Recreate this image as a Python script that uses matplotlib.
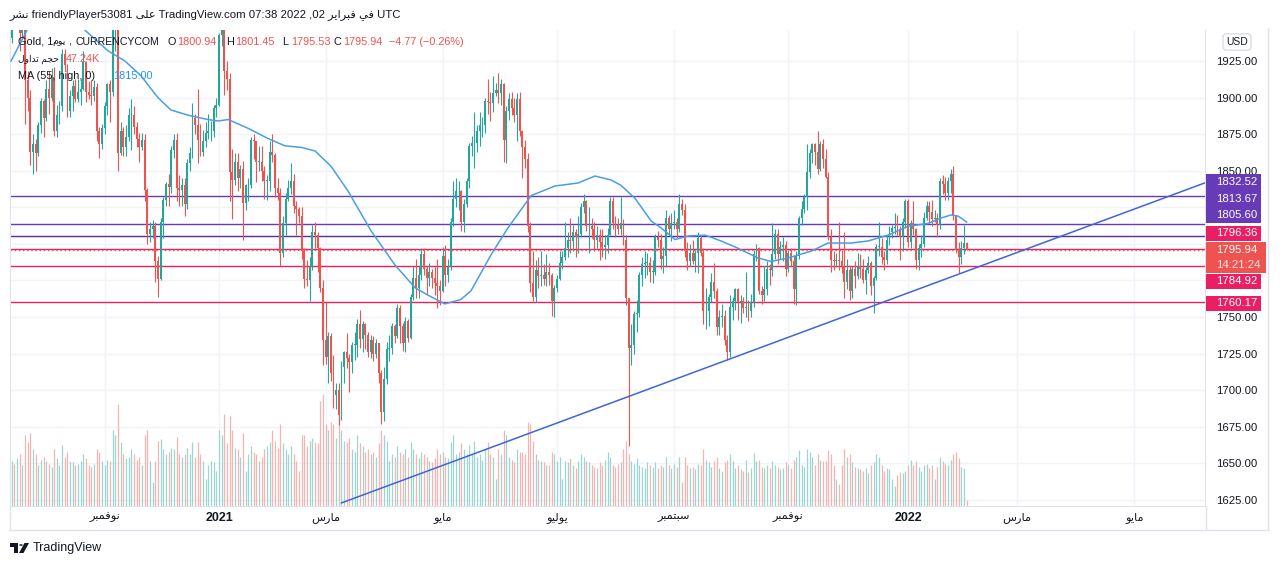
import numpy as np
import pandas as pd
import matplotlib
matplotlib.use("Agg")
import matplotlib.pyplot as plt
from matplotlib.patches import Rectangle, Polygon, Circle
from matplotlib.lines import Line2D
from matplotlib.transforms import blended_transform_factory, Affine2D

plt.rcParams['font.family'] = ['Liberation Sans', 'DejaVu Sans']

# ---------------- data (Gold, daily, CURRENCYCOM) ----------------
start_day = '2020-09-14'
holidays = ['2020-12-25', '2021-01-01', '2021-04-02']
first_open = 1941.0
last_open = 1800.94

closes = [
    1956, 1954, 1960, 1944, 1950, 1912, 1900, 1863, 1868, 1862,
    1881, 1898, 1886, 1906, 1900, 1914, 1877, 1888, 1894, 1930,
    1922, 1891, 1901, 1908, 1899, 1904, 1906, 1924, 1904, 1902,
    1901, 1907, 1877, 1868, 1879, 1894, 1909, 1904, 1948, 1951,
    1862, 1877, 1866, 1873, 1888, 1888, 1880, 1872, 1866, 1871,
    1837, 1807, 1810, 1812, 1788, 1776, 1815, 1830, 1841, 1839,
    1864, 1871, 1838, 1837, 1840, 1827, 1855, 1862, 1886, 1881,
    1871, 1863, 1870, 1876, 1877, 1877, 1893, 1895, 1943, 1950,
    1918, 1913, 1849, 1844, 1856, 1845, 1851, 1828, 1840, 1840,
    1871, 1870, 1856, 1856, 1850, 1843, 1843, 1863, 1861, 1838,
    1835, 1794, 1814, 1831, 1838, 1843, 1826, 1824, 1819, 1795,
    1776, 1775, 1784, 1808, 1806, 1797, 1770, 1734, 1723, 1737,
    1712, 1697, 1700, 1683, 1716, 1726, 1722, 1719, 1731, 1731,
    1745, 1735, 1745, 1738, 1726, 1734, 1725, 1732, 1712, 1685,
    1708, 1728, 1729, 1744, 1737, 1756, 1744, 1732, 1747, 1736,
    1764, 1777, 1770, 1779, 1793, 1783, 1777, 1781, 1777, 1773,
    1771, 1768, 1792, 1779, 1784, 1815, 1831, 1836, 1836, 1815,
    1827, 1843, 1867, 1869, 1869, 1877, 1881, 1881, 1898, 1897,
    1896, 1903, 1905, 1903, 1909, 1871, 1891, 1899, 1893, 1888,
    1899, 1877, 1866, 1858, 1812, 1773, 1764, 1782, 1778, 1779,
    1776, 1781, 1779, 1761, 1770, 1776, 1787, 1791, 1797, 1803,
    1802, 1808, 1805, 1807, 1825, 1829, 1812, 1812, 1810, 1803,
    1806, 1801, 1798, 1799, 1806, 1829, 1814, 1813, 1810, 1814,
    1803, 1763, 1729, 1731, 1752, 1753, 1779, 1786, 1787, 1787,
    1781, 1781, 1805, 1803, 1790, 1792, 1818, 1810, 1814, 1815,
    1810, 1827, 1823, 1795, 1788, 1794, 1788, 1794, 1804, 1794,
    1754, 1754, 1764, 1774, 1768, 1743, 1750, 1751, 1734, 1726,
    1757, 1761, 1769, 1760, 1761, 1756, 1757, 1754, 1760, 1793,
    1797, 1768, 1765, 1769, 1783, 1782, 1793, 1807, 1793, 1798,
    1799, 1783, 1794, 1788, 1769, 1792, 1818, 1824, 1832, 1849,
    1862, 1868, 1863, 1851, 1868, 1858, 1846, 1805, 1789, 1788,
    1789, 1788, 1785, 1774, 1782, 1768, 1783, 1778, 1785, 1783,
    1775, 1782, 1787, 1771, 1777, 1798, 1798, 1791, 1789, 1803,
    1808, 1811, 1811, 1810, 1805, 1815, 1829, 1801, 1814, 1810,
    1789, 1797, 1800, 1818, 1826, 1822, 1817, 1818, 1813, 1843,
    1841, 1835, 1843, 1848, 1819, 1796, 1791, 1797, 1800.71, 1795.94,
]

highs = [
    1966, 1972, 1973, 1962, 1956, 1954, 1918, 1905, 1875, 1872,
    1883, 1900, 1899, 1912, 1918, 1920, 1921, 1895, 1898, 1933,
    1933, 1923, 1905, 1912, 1913, 1913, 1913, 1932, 1925, 1911,
    1912, 1912, 1910, 1880, 1882, 1897, 1910, 1912, 1950, 1960,
    1965, 1883, 1880, 1881, 1893, 1899, 1894, 1883, 1876, 1876,
    1875, 1838, 1815, 1816, 1815, 1792, 1818, 1832, 1842, 1848,
    1867, 1875, 1876, 1847, 1845, 1845, 1858, 1866, 1896, 1889,
    1906, 1882, 1878, 1883, 1889, 1884, 1895, 1900, 1944, 1952,
    1960, 1925, 1917, 1865, 1862, 1862, 1854, 1857, 1841, 1845,
    1873, 1875, 1870, 1867, 1867, 1853, 1847, 1870, 1875, 1862,
    1845, 1838, 1819, 1835, 1844, 1855, 1848, 1829, 1825, 1825,
    1797, 1789, 1791, 1813, 1815, 1808, 1798, 1775, 1760, 1740,
    1739, 1724, 1705, 1705, 1720, 1727, 1739, 1725, 1733, 1740,
    1749, 1755, 1747, 1746, 1740, 1738, 1737, 1735, 1732, 1714,
    1716, 1733, 1738, 1746, 1745, 1759, 1758, 1746, 1750, 1749,
    1766, 1785, 1790, 1785, 1797, 1797, 1785, 1787, 1783, 1784,
    1790, 1775, 1798, 1799, 1790, 1818, 1843, 1845, 1843, 1837,
    1831, 1845, 1869, 1874, 1890, 1881, 1890, 1887, 1900, 1913,
    1904, 1915, 1910, 1917, 1913, 1910, 1894, 1903, 1904, 1900,
    1903, 1904, 1878, 1871, 1862, 1815, 1795, 1789, 1791, 1795,
    1786, 1793, 1787, 1780, 1772, 1779, 1795, 1795, 1815, 1808,
    1818, 1813, 1810, 1819, 1828, 1834, 1830, 1825, 1818, 1815,
    1812, 1810, 1810, 1806, 1811, 1832, 1832, 1819, 1818, 1832,
    1817, 1806, 1762, 1745, 1754, 1762, 1781, 1791, 1795, 1794,
    1791, 1789, 1807, 1809, 1807, 1798, 1823, 1820, 1821, 1823,
    1818, 1834, 1831, 1827, 1801, 1800, 1803, 1796, 1808, 1806,
    1797, 1770, 1766, 1780, 1787, 1770, 1755, 1759, 1755, 1738,
    1765, 1764, 1770, 1770, 1765, 1764, 1781, 1762, 1766, 1796,
    1800, 1798, 1771, 1785, 1788, 1786, 1814, 1810, 1810, 1802,
    1805, 1802, 1796, 1797, 1792, 1795, 1819, 1829, 1834, 1868,
    1865, 1869, 1869, 1877, 1870, 1872, 1865, 1849, 1810, 1795,
    1794, 1815, 1796, 1808, 1790, 1785, 1785, 1788, 1794, 1793,
    1790, 1784, 1792, 1788, 1778, 1800, 1815, 1804, 1795, 1806,
    1812, 1813, 1821, 1820, 1812, 1818, 1831, 1831, 1816, 1829,
    1811, 1800, 1806, 1822, 1829, 1829, 1830, 1823, 1821, 1845,
    1847, 1846, 1846, 1851, 1853, 1820, 1801, 1802, 1813, 1801.45,
]

lows = [
    1937, 1947, 1950, 1932, 1940, 1882, 1891, 1854, 1848, 1850,
    1860, 1876, 1873, 1884, 1889, 1898, 1874, 1873, 1882, 1891,
    1918, 1887, 1887, 1891, 1897, 1897, 1895, 1905, 1897, 1899,
    1895, 1898, 1870, 1859, 1865, 1875, 1888, 1883, 1901, 1932,
    1850, 1861, 1860, 1860, 1870, 1864, 1875, 1866, 1856, 1864,
    1829, 1800, 1801, 1804, 1774, 1764, 1775, 1804, 1826, 1826,
    1835, 1859, 1829, 1826, 1826, 1819, 1824, 1850, 1859, 1875,
    1855, 1860, 1860, 1866, 1872, 1870, 1873, 1887, 1894, 1935,
    1902, 1905, 1829, 1817, 1840, 1836, 1838, 1803, 1823, 1829,
    1838, 1858, 1842, 1850, 1843, 1831, 1830, 1836, 1856, 1832,
    1830, 1785, 1791, 1806, 1829, 1834, 1821, 1806, 1814, 1790,
    1770, 1771, 1761, 1782, 1797, 1781, 1767, 1717, 1718, 1705,
    1706, 1688, 1687, 1676, 1680, 1705, 1715, 1699, 1712, 1721,
    1723, 1729, 1726, 1728, 1723, 1722, 1720, 1722, 1705, 1677,
    1679, 1704, 1720, 1725, 1732, 1736, 1732, 1727, 1726, 1733,
    1735, 1762, 1763, 1763, 1775, 1779, 1765, 1771, 1770, 1765,
    1756, 1758, 1767, 1771, 1774, 1782, 1812, 1825, 1823, 1809,
    1808, 1825, 1838, 1860, 1852, 1863, 1867, 1873, 1876, 1889,
    1884, 1890, 1901, 1896, 1895, 1856, 1855, 1885, 1888, 1883,
    1870, 1874, 1845, 1852, 1808, 1767, 1761, 1760, 1770, 1771,
    1772, 1771, 1772, 1751, 1750, 1767, 1775, 1783, 1789, 1791,
    1794, 1795, 1791, 1794, 1805, 1821, 1809, 1794, 1804, 1795,
    1797, 1789, 1791, 1790, 1794, 1807, 1810, 1805, 1807, 1806,
    1799, 1758, 1662, 1717, 1725, 1740, 1750, 1771, 1777, 1779,
    1774, 1773, 1779, 1798, 1783, 1780, 1784, 1806, 1802, 1810,
    1804, 1808, 1820, 1791, 1782, 1785, 1786, 1781, 1780, 1792,
    1745, 1742, 1744, 1760, 1763, 1738, 1738, 1743, 1731, 1721,
    1723, 1748, 1755, 1748, 1746, 1753, 1750, 1747, 1750, 1757,
    1788, 1766, 1759, 1761, 1765, 1772, 1778, 1790, 1786, 1790,
    1788, 1778, 1781, 1785, 1759, 1758, 1790, 1813, 1821, 1823,
    1845, 1855, 1854, 1848, 1850, 1852, 1845, 1803, 1781, 1782,
    1784, 1782, 1780, 1763, 1769, 1762, 1763, 1770, 1776, 1777,
    1773, 1766, 1780, 1765, 1753, 1775, 1792, 1786, 1782, 1786,
    1799, 1804, 1807, 1806, 1789, 1795, 1811, 1798, 1797, 1806,
    1783, 1782, 1791, 1798, 1816, 1815, 1812, 1815, 1805, 1810,
    1834, 1830, 1830, 1835, 1816, 1794, 1780, 1786, 1793, 1795.53,
]

# volume in thousands
volume_k = [
    330, 310, 350, 380, 300, 520, 470, 540, 420, 380, 300, 340, 360, 330, 310, 290, 420, 350, 300, 450,
    360, 400, 330, 320, 300, 310, 330, 380, 350, 300, 290, 310, 420, 400, 330, 300, 340, 330, 560, 520,
    750, 470, 380, 350, 360, 420, 380, 340, 360, 300, 520, 560, 330, 180, 330, 480, 490, 420, 380, 400,
    430, 420, 510, 380, 360, 380, 430, 380, 470, 360, 470, 380, 330, 200, 300, 330, 320, 260, 560, 520,
    680, 460, 660, 560, 430, 420, 360, 540, 260, 380, 440, 400, 380, 330, 360, 420, 440, 470, 560, 480,
    430, 600, 460, 420, 380, 440, 380, 330, 260, 520, 520, 440, 480, 500, 470, 460, 770, 820, 600, 560,
    620, 600, 500, 660, 560, 480, 470, 500, 420, 400, 520, 460, 440, 400, 420, 380, 400, 360, 460, 560,
    520, 480, 330, 380, 360, 440, 400, 380, 420, 360, 470, 420, 380, 350, 400, 380, 360, 330, 320, 350,
    420, 380, 400, 360, 350, 470, 520, 380, 400, 460, 420, 380, 450, 380, 480, 360, 380, 340, 420, 470,
    380, 360, 200, 420, 380, 560, 520, 360, 340, 320, 420, 400, 400, 380, 620, 600, 480, 380, 340, 330,
    320, 300, 300, 400, 380, 330, 360, 200, 330, 320, 350, 300, 280, 330, 380, 360, 330, 320, 300, 290,
    280, 320, 300, 340, 400, 360, 300, 290, 310, 320, 420, 480, 380, 330, 310, 350, 300, 290, 280, 320,
    300, 290, 320, 280, 300, 290, 360, 300, 280, 310, 290, 360, 180, 360, 300, 280, 290, 270, 310, 300,
    420, 340, 320, 290, 330, 360, 280, 260, 320, 340, 380, 330, 280, 300, 270, 260, 340, 250, 280, 390,
    330, 340, 290, 280, 300, 280, 330, 300, 290, 270, 280, 320, 300, 280, 340, 360, 410, 300, 290, 420,
    400, 360, 300, 380, 340, 330, 330, 410, 380, 300, 200, 160, 300, 420, 360, 380, 320, 290, 280, 270,
    260, 280, 240, 300, 320, 380, 360, 300, 260, 280, 270, 200, 150, 230, 250, 240, 260, 300, 340, 300,
    330, 290, 260, 300, 310, 280, 300, 200, 290, 360, 330, 310, 300, 340, 380, 400, 350, 290, 280, 47.24,
]

# MA(55, high): (bar index, value)
ma_idx = [-0.2, 6.2, 8.8, 25.7, 27.6, 36.2, 42.6, 48.6, 55.0, 59.9, 66.3, 73.8, 77.6, 81.4,
          88.9, 96.4, 102.8, 108.8, 114.1, 120.1, 126.5, 135.1, 144.1, 151.7, 156.5, 162.9,
          168.9, 172.7, 180.2, 186.6, 195.3, 204.3, 212.9, 219.3, 225.3, 229.1, 234.4, 240.4,
          244.1, 249.4, 254.3, 260.7, 266.7, 273.1, 280.6, 285.5, 291.9, 300.5, 306.9, 315.5,
          321.9, 329.5, 336.9, 344.5, 349.4, 353.2, 355.8, 359.0]
ma_val = [1925, 1947.5, 1960, 1960, 1946, 1932, 1925, 1915, 1900, 1891.5, 1888, 1885, 1884, 1885,
          1879, 1872, 1867, 1866, 1863.5, 1853, 1836, 1809, 1785.6, 1770, 1765, 1759,
          1762, 1768, 1792.5, 1811, 1833, 1839.6, 1841.6, 1846.4, 1843.7, 1840, 1831, 1815.7,
          1811, 1803, 1805.4, 1806, 1802, 1797, 1790.4, 1788, 1790.4, 1795, 1800.6, 1800.6,
          1802, 1806, 1812, 1814, 1817.7, 1819.8, 1819, 1815]

# rising trend line (two anchors)
trend_idx = [124, 449]
trend_val = [1623, 1842]

# horizontal levels
level_vals = [1832.52, 1813.67, 1805.60, 1796.36, 1784.92, 1760.17]
level_colors = ['#673ab7', '#673ab7', '#512da8', '#e91e63', '#e91e63', '#e91e63']

# price scale
price_ticks = [1625, 1650, 1675, 1700, 1725, 1750, 1775, 1800, 1825, 1850, 1875, 1900, 1925]
hidden_ticks = [1775, 1800, 1825]   # covered by the level labels

# time axis
month_ticks = [(2020, 11), (2021, 1), (2021, 3), (2021, 5), (2021, 7),
               (2021, 9), (2021, 11), (2022, 1), (2022, 3), (2022, 5)]
month_names = ['\uFEAE\uFE92\uFEE4\uFED3\uFEEE\uFEE7', '2021', '\uFEB1\uFEAD\uFE8E\uFEE3',
               '\uFEEE\uFEF3\uFE8E\uFEE3', '\uFEEE\uFEF4\uFEDF\uFEEE\uFEF3',
               '\uFEAE\uFE92\uFEE4\uFE98\uFE92\uFEB3', '\uFEAE\uFE92\uFEE4\uFED3\uFEEE\uFEE7',
               '2022', '\uFEB1\uFEAD\uFE8E\uFEE3', '\uFEEE\uFEF3\uFE8E\uFEE3']

# ---------------- layout helpers (pixels) ----------------
W, H = 1280, 566
def fx(px):
    return px / W
def fy(py):
    return 1 - py / H
def price_at(py):
    return 1925 - (py - 61) / 1.4633

UP, DOWN = '#26a69a', '#ef5350'
TXT = '#131722'
BORDER = '#e0e3eb'

fig = plt.figure(figsize=(12.8, 5.66), dpi=100)
fig.patch.set_facecolor('white')

ax = fig.add_axes([fx(10), fy(506), (1205 - 10) / W, (506 - 30) / H])

n = len(closes)
x = np.arange(n)
c = np.array(closes, dtype=float)
o = np.r_[first_open, c[:-1]]
o[-1] = last_open
h = np.maximum(np.array(highs, dtype=float), np.maximum(o, c))
l = np.minimum(np.array(lows, dtype=float), np.minimum(o, c))
up = c >= o
cols = np.where(up, UP, DOWN)

# trading-day calendar for the time axis
days = pd.bdate_range(start_day, '2022-06-30')
days = days[~days.isin(pd.to_datetime(holidays))]
tick_idx = []
for yy, mm in month_ticks:
    tick_idx.append(int(np.argmax((days.year == yy) & (days.month == mm))))

# volume (bottom of the pane)
vol_full = 3500.0
vtrans = blended_transform_factory(ax.transData, Affine2D().scale(1, 1 / vol_full) + ax.transAxes)
vcols = np.where(up, '#9dd6d0', '#f8b3b1')
ax.vlines(x, 0, volume_k, colors=vcols, lw=0.9, transform=vtrans, zorder=1)

# levels
for val, col in zip(level_vals, level_colors):
    ax.axhline(val, color=col, lw=1.0, zorder=2)
ax.axhline(c[-1], color=DOWN, lw=1.0, ls=(0, (1, 2)), zorder=2.1)

# candles
ax.vlines(x, l, h, colors=cols, lw=0.8, zorder=3)
ax.bar(x, np.maximum(np.abs(c - o), 0.4), 0.72, np.minimum(o, c), color=cols, lw=0, zorder=3.1)

# MA and trend line
ax.plot(ma_idx, ma_val, color='#4a9fe3', lw=1.1, zorder=4)
ax.plot(trend_idx, trend_val, color='#3d66d9', lw=1.1, zorder=4.5)

ax.set_xlim(-0.6, 448.6)
ax.set_ylim(price_at(506), price_at(30))

ax.set_yticks(price_ticks)
ax.set_yticklabels(['' if v in hidden_ticks else f'{v:.2f}' for v in price_ticks])
ax.yaxis.tick_right()
ax.tick_params(axis='y', length=0, pad=8, labelsize=8.2, labelcolor=TXT)
ax.set_xticks(tick_idx)
ax.set_xticklabels(month_names)
ax.tick_params(axis='x', length=0, pad=4, labelsize=8.2, labelcolor=TXT)
for lab, name in zip(ax.get_xticklabels(), month_names):
    if name.isdigit():
        lab.set_fontweight('bold')
        lab.set_fontsize(9)
ax.grid(True, color='#f0f3fa', lw=1)
ax.set_axisbelow(True)
ax.spines['top'].set_visible(False)
for s in ['left', 'bottom', 'right']:
    ax.spines[s].set_color(BORDER)

# outer frame of the chart
for xs, ys in [([9, 1268], [530, 530]), ([1268, 1268], [28, 530]),
               ([1206, 1206], [506, 530]), ([10, 10], [506, 530])]:
    fig.add_artist(Line2D([fx(v) for v in xs], [fy(v) for v in ys], color=BORDER, lw=1))

# ---------------- price labels on the right scale ----------------
def price_box(y0, y1, x1, color, lines):
    fig.add_artist(Rectangle((fx(1206), fy(y1)), fx(x1) - fx(1206), (y1 - y0) / H,
                             transform=fig.transFigure, facecolor=color, edgecolor='none', zorder=5))
    for ty, s, a in lines:
        fig.text(fx(1216), fy(ty), s, color='white', alpha=a, fontsize=8.2, va='center', ha='left', zorder=6)

price_box(174, 190.5, 1261, '#673ab7', [(182, f'{level_vals[0]:.2f}', 1)])
price_box(190.5, 207, 1261, '#673ab7', [(199, f'{level_vals[1]:.2f}', 1)])
price_box(207, 223.5, 1261, '#673ab7', [(215.5, f'{level_vals[2]:.2f}', 1)])
price_box(226, 241, 1261, '#e91e63', [(233.5, f'{level_vals[3]:.2f}', 1)])
price_box(242, 273, 1266, '#ef5350', [(250, f'{c[-1]:.2f}', 1), (265, '14:21:24', 0.85)])
price_box(273.5, 288.5, 1261, '#e91e63', [(281, f'{level_vals[4]:.2f}', 1)])
price_box(296, 311, 1261, '#e91e63', [(303.5, f'{level_vals[5]:.2f}', 1)])

fig.text(fx(1237), fy(42), 'USD', fontsize=7.5, color=TXT, ha='center', va='center',
         bbox=dict(boxstyle='round,pad=0.3', fc='white', ec='#d1d4dc', lw=0.8))

# ---------------- header texts ----------------
def ftext(px, py, s, size=7.8, **kw):
    fig.text(fx(px), fy(py), s, va='center', ha='left', fontsize=size, **kw)

AR_NASHR = '\uFEAE\uFEB8\uFEE7'
AR_ALA = '\uFEF0\uFEE0\uFECB'
AR_FEB = '\uFEAE\uFEF3\uFE8D\uFEAE\uFE92\uFED3'
AR_FI = '\uFEF2\uFED3'
AR_YOM = '\uFEE1\uFEEE\uFEF3'
AR_VOL = '\uFEDD\uFEED\uFE8D\uFEAA\uFE97 \uFEE2\uFEA0\uFEA3'

ftext(10, 15, f'{AR_NASHR} friendlyPlayer53081 {AR_ALA} TradingView.com 07:38 2022 ,02 {AR_FEB} {AR_FI} UTC',
      size=8.2, color=TXT)

ftext(18, 42, 'Gold, 1', color=TXT)
ftext(52, 42, AR_YOM, size=6.8, color=TXT)
ftext(68, 42, ',', color=TXT)
ftext(76, 42, 'CURRENCYCOM', size=7.6, color=TXT)
ohlc = [('O', o[-1], 168), ('H', h[-1], 226), ('L', l[-1], 282), ('C', c[-1], 334)]
for letter, val, px in ohlc:
    ftext(px, 42, letter, color=TXT)
    ftext(px + 9, 42, f'{val:.2f}', color=DOWN)
chg = c[-1] - c[-2]
ftext(389, 42, f'\u2212{abs(chg):.2f} (\u2212{abs(chg) / c[-2] * 100:.2f}%)', color=DOWN)

ftext(18, 59, AR_VOL, size=6.6, color=TXT)
ftext(66, 59, f'{volume_k[-1]:.2f}K', color=DOWN)

ftext(18, 76, 'MA (55, high, 0)', color=TXT)
ftext(113, 76, f'{ma_val[-1]:.2f}', color='#2196f3')

# ---------------- TradingView logo ----------------
logo = '#131722'
fig.add_artist(Rectangle((fx(10), fy(547)), 8 / W, 4 / H, transform=fig.transFigure, fc=logo, ec='none'))
fig.add_artist(Rectangle((fx(14), fy(553)), 4 / W, 10 / H, transform=fig.transFigure, fc=logo, ec='none'))
fig.add_artist(Circle((fx(21), fy(545)), 1.8 / W, transform=fig.transFigure, fc=logo, ec='none'))
fig.add_artist(Polygon([(fx(19), fy(553)), (fx(23.5), fy(553)), (fx(29), fy(543)), (fx(24.5), fy(543))],
                       closed=True, transform=fig.transFigure, fc=logo, ec='none'))
fig.text(fx(33), fy(548), 'TradingView', fontsize=9, color=TXT, va='center', ha='left')

fig.savefig('out.png', dpi=100)
